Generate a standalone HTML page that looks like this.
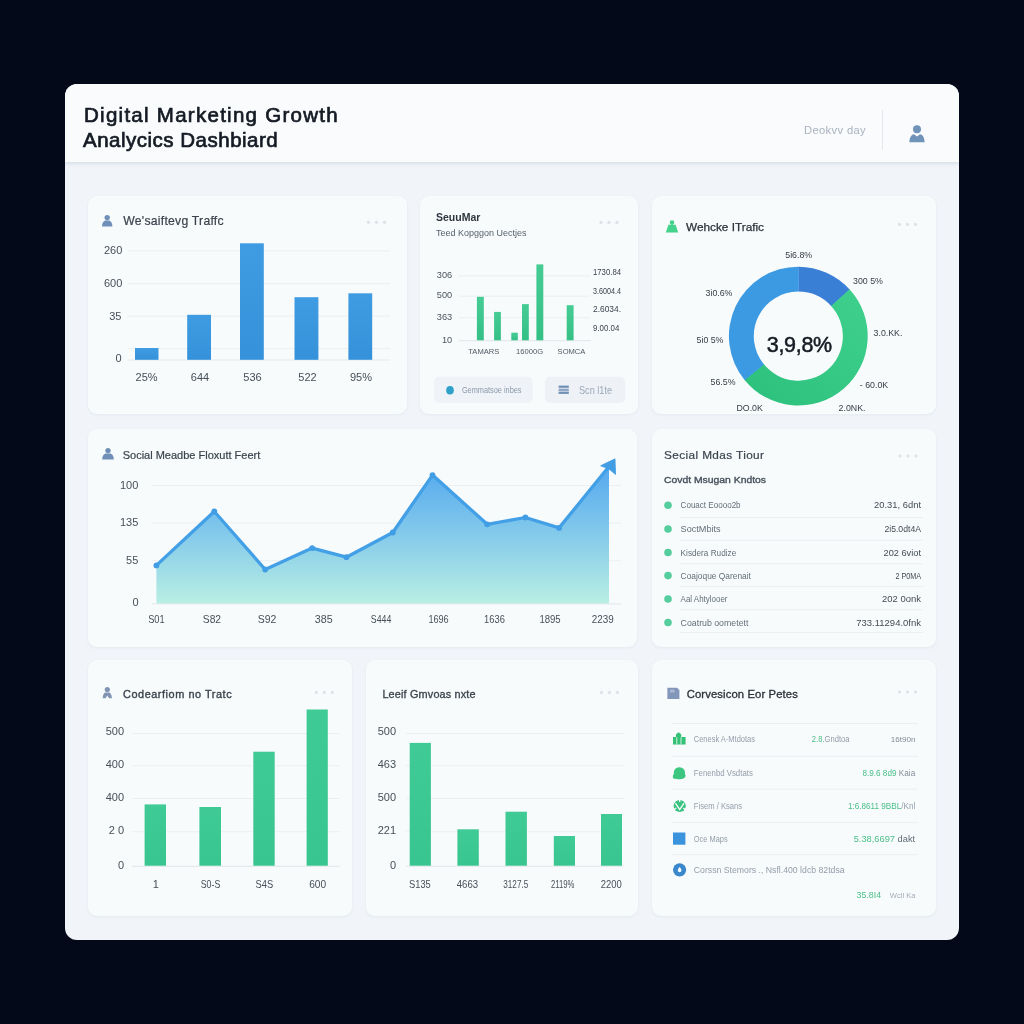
<!DOCTYPE html>
<html lang="en">
<head>
<meta charset="utf-8">
<title>Digital Marketing Growth Analytics Dashboard</title>
<style>
*{box-sizing:border-box;margin:0;padding:0}
html,body{width:1024px;height:1024px;overflow:hidden}
body{background:#040919;font-family:"Liberation Sans",sans-serif;position:relative;color:#2d333b}
.panel{position:absolute;left:65px;top:84px;width:894px;height:856px;background:#f1f5f9;border-radius:12px;overflow:hidden;filter:blur(.4px)}
.header{position:absolute;left:0;top:0;width:894px;height:78px;background:#f9fbfd;box-shadow:0 1px 4px rgba(120,135,155,.28)}
.header h1{position:absolute;left:19px;top:17.5px;font-size:20.5px;line-height:25px;font-weight:400;color:#151b24;-webkit-text-stroke:.7px #151b24;white-space:nowrap;letter-spacing:0}
.header .date{position:absolute;right:93px;top:38.500px;font-size:11.200px;letter-spacing:.35px;color:#a9b2bf;line-height:14px;white-space:nowrap}
.header .vr{position:absolute;left:817px;top:26px;width:1px;height:40px;background:#e3e8ee}
.header svg.user{position:absolute;left:843px;top:40px}
.card{position:absolute;background:#f8fbfc;border-radius:9px;box-shadow:0 1px 3px rgba(170,185,205,.18)}
.card svg{position:absolute;left:0;top:0;overflow:visible}
svg text{font-family:"Liberation Sans",sans-serif}
.t{fill:#3a434d;stroke:#3a434d;stroke-width:.2px}
.ax{fill:#464f59;font-size:11px}
.g{stroke:#ebeff3;stroke-width:1}
.dots circle{fill:#dfe4ea}
</style>
</head>
<body>
<svg width="0" height="0" style="position:absolute"><defs>
  <linearGradient id="gb" x1="0" y1="0" x2="0" y2="1"><stop offset="0" stop-color="#3f9ce2"/><stop offset="1" stop-color="#3592da"/></linearGradient>
  <linearGradient id="gg" x1="0" y1="0" x2="0" y2="1"><stop offset="0" stop-color="#45cc94"/><stop offset="1" stop-color="#35c086"/></linearGradient>
  <linearGradient id="ga" x1="0" y1="0" x2="0" y2="1"><stop offset="0" stop-color="#54a8ef"/><stop offset=".5" stop-color="#84caea"/><stop offset="1" stop-color="#b9efe3"/></linearGradient>
  <linearGradient id="gd" x1="1" y1="0" x2="0" y2="1"><stop offset="0" stop-color="#3fd08d"/><stop offset="1" stop-color="#2cc07d"/></linearGradient>
  <linearGradient id="gg2" x1="0" y1="0" x2="0" y2="1"><stop offset="0" stop-color="#40cb96"/><stop offset="1" stop-color="#38c58f"/></linearGradient>
</defs></svg>
<div class="panel">
  <div class="header">
    <h1><span style="letter-spacing:1.270px">Digital Marketing Growth</span><br><span style="letter-spacing:.5px;margin-left:-1px">Analycics Dashbiard</span></h1>
    <div class="date">Deokvv day</div>
    <div class="vr"></div>
    <svg class="user" width="18" height="19" viewBox="0 0 18 19"><circle cx="9" cy="5.2" r="4" fill="#7093b9"/><path d="M1.400 18.200c0-5 2.300-8 4.600-8L9 12.600l3-2.400c2.300 0 4.600 3 4.600 8z" fill="#7093b9"/></svg>
  </div>

  <!-- cards: coordinates are relative to .panel (panel origin = 65,84) -->
  <section class="card" id="c1" style="left:23px;top:112px;width:319px;height:218px">
    <svg width="319" height="218" viewBox="88 196 319 218">
      <g fill="#6f8fb8"><circle cx="107.2" cy="217.6" r="2.7"/><path d="M102 226.6c0-4 2-6.2 3.6-6.2h3.2c1.600 0 3.600 2.200 3.600 6.200z"/></g>
      <text class="t" x="123.300" y="225" font-size="12.200" letter-spacing=".25">We'saiftevg Traffc</text>
      <g class="dots"><circle cx="368.500" cy="222.300" r="1.700"/><circle cx="376.500" cy="222.300" r="1.700"/><circle cx="384.500" cy="222.300" r="1.700"/></g>
      <g class="g"><path d="M127.500 250.800H390M127.500 283.600H390M127.500 316.200H390M127.500 348.600H390"/><path d="M127.500 360H390" stroke="#e3e8ed"/></g>
      <g class="ax" text-anchor="end"><text x="122.300" y="254.300">260</text><text x="122.300" y="287">600</text><text x="121.500" y="320">35</text><text x="121.500" y="362">0</text></g>
      <g fill="url(#gb)"><rect x="135" y="348" width="23.500" height="11.800"/><rect x="187.200" y="314.800" width="23.800" height="45"/><rect x="240" y="243.300" width="23.800" height="116.500"/><rect x="294.500" y="297.200" width="23.900" height="62.600"/><rect x="348.400" y="293.300" width="23.800" height="66.500"/></g>
      <g class="ax" text-anchor="middle"><text x="146.600" y="380.800">25%</text><text x="200" y="380.800">644</text><text x="252.500" y="380.800">536</text><text x="307.500" y="380.800">522</text><text x="361" y="380.800">95%</text></g>
    </svg>
  </section>
  <section class="card" id="c2" style="left:355px;top:112px;width:218px;height:218px">
    <svg width="218" height="218" viewBox="420 196 218 218">
      <text x="436" y="220.800" font-size="10.500" font-weight="700" fill="#2e3640">SeuuMar</text>
      <text x="436" y="235.600" font-size="9.300" fill="#56616d" textLength="90.500" lengthAdjust="spacingAndGlyphs">Teed Kopggon Uectjes</text>
      <g class="dots"><circle cx="601" cy="222.500" r="1.700"/><circle cx="609" cy="222.500" r="1.700"/><circle cx="617" cy="222.500" r="1.700"/></g>
      <g class="g"><path d="M458.500 275.800H590M458.500 296.200H590M458.500 317.700H590"/><path d="M458.500 340.700H591" stroke="#dfe5ea"/></g>
      <g font-size="9.200" fill="#4a535d" text-anchor="end"><text x="452.200" y="277.600">306</text><text x="452.200" y="298.400">500</text><text x="452.200" y="320.300">363</text><text x="452.200" y="342.500">10</text></g>
      <g fill="url(#gg)"><rect x="476.900" y="296.800" width="6.900" height="43.500"/><rect x="494.100" y="311.900" width="6.800" height="28.400"/><rect x="511.300" y="332.700" width="6.500" height="7.600"/><rect x="522" y="304.100" width="6.800" height="36.200"/><rect x="536.400" y="264.400" width="6.900" height="75.900"/><rect x="566.700" y="305.200" width="6.900" height="35.100"/></g>
      <g font-size="9.600" fill="#3c444e" lengthAdjust="spacingAndGlyphs"><text x="593" y="274.700" textLength="28" lengthAdjust="spacingAndGlyphs">1730.84</text><text x="593" y="293.800" textLength="28" lengthAdjust="spacingAndGlyphs">3.6004.4</text><text x="593" y="312.200" textLength="28" lengthAdjust="spacingAndGlyphs">2.6034.</text><text x="593" y="330.900" textLength="26.300" lengthAdjust="spacingAndGlyphs">9.00.04</text></g>
      <g font-size="7.600" fill="#4f5862" text-anchor="middle"><text x="483.800" y="354.200">TAMARS</text><text x="529.600" y="354.200">16000G</text><text x="571.500" y="354.200">SOMCA</text></g>
      <rect x="434" y="376.800" width="98.800" height="26.200" rx="5" fill="#eff3f8"/>
      <rect x="545" y="376.800" width="80.200" height="26.200" rx="5" fill="#eef2f7"/>
      <ellipse cx="450" cy="390.300" rx="3.800" ry="4.300" fill="#2fa1c8"/>
      <text x="461.900" y="393.400" font-size="9" fill="#8c98a9" textLength="59.600" lengthAdjust="spacingAndGlyphs">Gemmatsoe inbes</text>
      <g fill="#6f8fb5"><rect x="558.600" y="385.600" width="10.200" height="2.200"/><rect x="558.600" y="388.700" width="10.200" height="2.200" fill="#8aa3c2"/><rect x="558.600" y="391.600" width="10.200" height="2.300"/></g>
      <text x="579" y="393.900" font-size="10.400" fill="#9ca7b6" textLength="33" lengthAdjust="spacingAndGlyphs">Scn l1te</text>
    </svg>
  </section>
  <section class="card" id="c3" style="left:587px;top:112px;width:284px;height:218px">
    <svg width="284" height="218" viewBox="652 196 284 218">
      <g fill="#45d28c"><circle cx="672" cy="222.600" r="2.300"/><path d="M665.800 232.600l2.600-7.800h7.200l2.600 7.800z"/></g>
      <text x="686" y="230.800" font-size="11.800" fill="#2a3038" stroke="#2a3038" stroke-width=".25">Wehcke ITrafic</text>
      <g class="dots"><circle cx="899.500" cy="224.400" r="1.700"/><circle cx="907.500" cy="224.400" r="1.700"/><circle cx="915.500" cy="224.400" r="1.700"/></g>
      <path d="M798.30 266.70A69.4 69.4 0 0 1 849.87 289.66L831.37 306.32A44.5 44.5 0 0 0 798.30 291.60Z" fill="#3a7fd6"/><path d="M849.47 289.21A69.4 69.4 0 1 1 744.37 379.77L763.72 364.10A44.5 44.5 0 1 0 831.11 306.04Z" fill="url(#gd)"/><path d="M744.75 380.24A69.4 69.4 0 0 1 798.66 266.70L798.53 291.60A44.5 44.5 0 0 0 763.96 364.41Z" fill="#3c9ae2"/>
      <text x="799.300" y="351.600" font-size="21.500" fill="#161b23" text-anchor="middle" letter-spacing="-.3" stroke="#161b23" stroke-width=".5">3,9,8%</text>
      <g font-size="8.800" fill="#363d46" text-anchor="middle">
        <text x="798.700" y="258.200">5i6.8%</text><text x="868" y="283.600">300 5%</text><text x="888" y="335.600">3.0.KK.</text>
        <text x="874" y="387.600">- 60.0K</text><text x="852" y="410.800">2.0NK.</text><text x="749.700" y="410.800">DO.0K</text>
        <text x="723" y="385.400">56.5%</text><text x="710" y="342.700">5i0 5%</text><text x="719" y="295.800">3i0.6%</text>
      </g>
    </svg>
  </section>
  <section class="card" id="c4" style="left:23px;top:345px;width:549px;height:218px">
    <svg width="549" height="218" viewBox="88 429 549 218">
      <g fill="#6f8fb8"><circle cx="108" cy="450.600" r="2.700"/><path d="M102.200 459.500c0-3.800 2-6 3.800-6h4c1.800 0 3.800 2.200 3.800 6z"/></g>
      <text class="t" x="122.700" y="459" font-size="11">Social Meadbe Floxutt Feert</text>
      <g class="g"><path d="M151.500 485.500H621M151.500 523H621M151.500 560.700H621"/><path d="M151.500 603.900H621" stroke="#e1e7ec"/></g>
      <g class="ax" text-anchor="end"><text x="138.300" y="488.700">100</text><text x="138.300" y="526.400">135</text><text x="138.300" y="563.900">55</text><text x="138.500" y="605.700">0</text></g>
      <path d="M156.4 565.4L214.3 511.5L265.2 569.5L312.2 548.1L346.4 557.2L392.8 532.5L432.5 475.1L487.2 524.3L525.4 517.5L559.1 527.9L609 466.5L609 603.600L156.400 603.600Z" fill="url(#ga)"/>
      <path d="M156.4 565.4L214.3 511.5L265.2 569.5L312.2 548.1L346.4 557.2L392.8 532.5L432.5 475.1L487.2 524.3L525.4 517.5L559.1 527.9L609 466.5" fill="none" stroke="#43a0e6" stroke-width="3.300" stroke-linejoin="round" stroke-linecap="round"/>
      <g fill="#419de4"><circle cx="156.4" cy="565.4" r="2.900"/><circle cx="214.3" cy="511.5" r="2.900"/><circle cx="265.2" cy="569.5" r="2.900"/><circle cx="312.2" cy="548.1" r="2.900"/><circle cx="346.4" cy="557.2" r="2.900"/><circle cx="392.8" cy="532.5" r="2.900"/><circle cx="432.5" cy="475.1" r="2.900"/><circle cx="487.2" cy="524.3" r="2.900"/><circle cx="525.4" cy="517.5" r="2.900"/><circle cx="559.1" cy="527.9" r="2.900"/><path d="M615 458.800L600.600 465.800L608.600 468.700L615.600 474.500z" stroke="#419de4" stroke-width=".8" stroke-linejoin="round"/></g>
      <g class="ax" font-size="10.600"><text x="148.2" y="622.500" textLength="16.4" lengthAdjust="spacingAndGlyphs">S01</text><text x="202.8" y="622.500" textLength="18.3" lengthAdjust="spacingAndGlyphs">S82</text><text x="257.8" y="622.500" textLength="18.6" lengthAdjust="spacingAndGlyphs">S92</text><text x="314.8" y="622.500" textLength="17.8" lengthAdjust="spacingAndGlyphs">385</text><text x="370.8" y="622.500" textLength="20.5" lengthAdjust="spacingAndGlyphs">S444</text><text x="428.4" y="622.500" textLength="20.3" lengthAdjust="spacingAndGlyphs">1696</text><text x="484.1" y="622.500" textLength="20.8" lengthAdjust="spacingAndGlyphs">1636</text><text x="539.4" y="622.500" textLength="21.3" lengthAdjust="spacingAndGlyphs">1895</text><text x="591.8" y="622.500" textLength="22" lengthAdjust="spacingAndGlyphs">2239</text></g>
    </svg>
  </section>
  <section class="card" id="c5" style="left:587px;top:345px;width:284px;height:218px">
    <svg width="284" height="218" viewBox="652 429 284 218">
      <text class="t" x="664" y="459.300" font-size="11.800" textLength="100" stroke="#3a434d" stroke-width=".2">Secial Mdas Tiour</text>
      <g class="dots"><circle cx="900" cy="456" r="1.700"/><circle cx="908" cy="456" r="1.700"/><circle cx="916" cy="456" r="1.700"/></g>
      <text x="664" y="482.700" font-size="9.600" fill="#47505b" stroke="#47505b" stroke-width=".35" textLength="102" lengthAdjust="spacingAndGlyphs">Covdt Msugan Kndtos</text>
      <path class="g" d="M680 517.5H923M680 540.3H923M680 563.75H923M680 586.6H923M680 609.7H923M680 632.5H923" stroke="#e8ecf1"/>
      <g font-size="8.800"><circle cx="668" cy="505.3" r="3.800" fill="#55cd9d"/><text x="680.600" y="508.4" fill="#636d79" textLength="60" lengthAdjust="spacingAndGlyphs">Couact Eoooo2b</text><text x="874.1" y="508.4" fill="#434b55" textLength="46.9" lengthAdjust="spacingAndGlyphs">20.31, 6dnt</text><circle cx="668" cy="529" r="3.800" fill="#55cd9d"/><text x="680.600" y="532.1" fill="#636d79" textLength="40" lengthAdjust="spacingAndGlyphs">SoctMbits</text><text x="884.4" y="532.1" fill="#434b55" textLength="36.6" lengthAdjust="spacingAndGlyphs">2i5.0dt4A</text><circle cx="668" cy="552.5" r="3.800" fill="#55cd9d"/><text x="680.600" y="555.6" fill="#636d79" textLength="55.6" lengthAdjust="spacingAndGlyphs">Kisdera Rudize</text><text x="883.5" y="555.6" fill="#434b55" textLength="37.5" lengthAdjust="spacingAndGlyphs">202 6viot</text><circle cx="668" cy="575.6" r="3.800" fill="#55cd9d"/><text x="680.600" y="578.7" fill="#636d79" textLength="70.3" lengthAdjust="spacingAndGlyphs">Coajoque Qarenait</text><text x="895.4" y="578.7" fill="#434b55" textLength="25.6" lengthAdjust="spacingAndGlyphs">2 P0MA</text><circle cx="668" cy="599" r="3.800" fill="#55cd9d"/><text x="680.600" y="602.1" fill="#636d79" textLength="46.9" lengthAdjust="spacingAndGlyphs">Aal Ahtylooer</text><text x="882.0" y="602.1" fill="#434b55" textLength="39" lengthAdjust="spacingAndGlyphs">202 0onk</text><circle cx="668" cy="622.5" r="3.800" fill="#55cd9d"/><text x="680.600" y="625.6" fill="#636d79" textLength="67.8" lengthAdjust="spacingAndGlyphs">Coatrub oometett</text><text x="856.3" y="625.6" fill="#434b55" textLength="64.7" lengthAdjust="spacingAndGlyphs">733.11294.0fnk</text></g>
    </svg>
  </section>
  <section class="card" id="c6" style="left:23px;top:576px;width:264px;height:256px">
    <svg width="264" height="256" viewBox="88 660 264 256">
      <g fill="#8094b3"><circle cx="107.300" cy="689.500" r="2.600"/><path d="M102.700 698.300c0-3.800 1.600-5.800 3-5.800h3.200c1.400 0 3 2 3 5.800h-2.900l-1.700-2.700-1.700 2.700z"/></g>
      <text class="t" x="123" y="697.700" font-size="10.900" textLength="108.600" style="stroke-width:.35px">Codearfiom no Tratc</text>
      <g class="dots"><circle cx="316.300" cy="692.500" r="1.700"/><circle cx="324.300" cy="692.500" r="1.700"/><circle cx="332.300" cy="692.500" r="1.700"/></g>
      <g class="g"><path d="M132 733.500H339.500M132 765.700H339.500M132 798.500H339.500M132 831.700H339.500"/><path d="M132 866.300H339.500" stroke="#e1e7ec"/></g>
      <g class="ax" font-size="11.200" text-anchor="end"><text x="124" y="735.200">500</text><text x="124" y="768.300">400</text><text x="124" y="800.500">400</text><text x="124" y="834.200">2 0</text><text x="124" y="869.400">0</text></g>
      <g fill="url(#gg2)"><rect x="144.600" y="804.400" width="21.400" height="61.300"/><rect x="199.400" y="807" width="21.600" height="58.700"/><rect x="253.300" y="751.700" width="21.400" height="114"/><rect x="306.600" y="709.500" width="21.200" height="156.200"/></g>
      <g class="ax" font-size="10.800"><text x="155.7" y="888.300" text-anchor="middle">1</text><text x="200.7" y="888.300" textLength="19.6" lengthAdjust="spacingAndGlyphs">S0-S</text><text x="255.6" y="888.300" textLength="17.6" lengthAdjust="spacingAndGlyphs">S4S</text><text x="309.2" y="888.300" textLength="16.9" lengthAdjust="spacingAndGlyphs">600</text></g>
    </svg>
  </section>
  <section class="card" id="c7" style="left:301px;top:576px;width:272px;height:256px">
    <svg width="272" height="256" viewBox="366 660 272 256">
      <text class="t" x="382.400" y="697.700" font-size="10.900" textLength="93.200" style="stroke-width:.3px">Leeif Gmvoas nxte</text>
      <g class="dots"><circle cx="601.500" cy="692.500" r="1.700"/><circle cx="609.500" cy="692.500" r="1.700"/><circle cx="617.500" cy="692.500" r="1.700"/></g>
      <g class="g"><path d="M406 733.500H623.600M406 765.700H623.600M406 798.500H623.600M406 831.700H623.600"/><path d="M406 866.300H623.600" stroke="#e1e7ec"/></g>
      <g class="ax" font-size="11.200" text-anchor="end"><text x="396" y="735.200">500</text><text x="396" y="768.300">463</text><text x="396" y="800.500">500</text><text x="396" y="834.200">221</text><text x="396" y="869.400">0</text></g>
      <g fill="url(#gg2)"><rect x="409.700" y="742.900" width="21.200" height="122.800"/><rect x="457.400" y="829.300" width="21.400" height="36.400"/><rect x="505.500" y="811.700" width="21.400" height="54"/><rect x="553.800" y="836" width="21.200" height="29.700"/><rect x="601" y="814" width="21" height="51.700"/></g>
      <g class="ax" font-size="10.600"><text x="409.1" y="888.300" textLength="21.7" lengthAdjust="spacingAndGlyphs">S135</text><text x="456.7" y="888.300" textLength="21.4" lengthAdjust="spacingAndGlyphs">4663</text><text x="503.3" y="888.300" textLength="24.9" lengthAdjust="spacingAndGlyphs">3127.5</text><text x="550.9" y="888.300" textLength="23.4" lengthAdjust="spacingAndGlyphs">2119%</text><text x="600.7" y="888.300" textLength="21.1" lengthAdjust="spacingAndGlyphs">2200</text></g>
    </svg>
  </section>
  <section class="card" id="c8" style="left:587px;top:576px;width:284px;height:256px">
    <svg width="284" height="256" viewBox="652 660 284 256">
      <path d="M667.400 687.700h9.600l2.400 2.400v8.900h-12z" fill="#8196b8"/><rect x="670" y="689.600" width="4.600" height="3" fill="#a9b8d0"/>
      <text x="686.700" y="697.600" font-size="11.300" fill="#2a3038" stroke="#2a3038" stroke-width=".3" textLength="111.200" lengthAdjust="spacing">Corvesicon Eor Petes</text>
      <g class="dots"><circle cx="899.500" cy="691.900" r="1.700"/><circle cx="907.500" cy="691.900" r="1.700"/><circle cx="915.500" cy="691.900" r="1.700"/></g>
      <path class="g" d="M672 723.500H917.500M672 756.300H917.500M672 789.200H917.500M672 822.400H917.500M672 854.600H917.500" stroke="#e7ebf0"/>
      <!-- row icons -->
      <g fill="#35c277"><path d="M673 744.500v-7.600h3v-2.600l2.600-2 2.600 2v2.600h4.400v7.600z"/><path d="M676.800 737.300v7" stroke="#f8fbfc" stroke-width=".8"/><path d="M681 737.300v7" stroke="#f8fbfc" stroke-width=".8"/></g>
      <path d="M673.500 778.500c-1-1-1-3.400.4-4.400-.6-3.800 1.800-6.800 5.400-6.800 3.800 0 6.400 3 5.600 6.400 1 1.200.8 3.200-.4 4.200-2.400 1.400-8.600 1.600-11 .6z" fill="#3cc67f"/>
      <circle cx="679.700" cy="806" r="6.100" fill="#3bc382"/><path d="M675.400 803.200l4.300 6.400 4.300-6.400M679.700 799.500v2.600M674 809.600l2.200-1.600M685.400 809.600l-2.200-1.600" fill="none" stroke="#f8fbfc" stroke-width="1.300"/>
      <rect x="673" y="832.500" width="12.400" height="12.200" fill="#3b93de"/>
      <circle cx="679.600" cy="869.800" r="6.600" fill="#3a87cc"/><path d="M679.600 867c1.300 1.600 1.800 2.400 1.800 3.400a1.800 1.800 0 0 1-3.600 0c0-1 .5-1.800 1.800-3.400z" fill="#f8fbfc"/>
      <g font-size="8.600" fill="#949daa">
        <text x="693.800" y="741.600" textLength="61.200" lengthAdjust="spacingAndGlyphs">Cenesk A-Mtdotas</text><text x="693.800" y="775.500" textLength="59" lengthAdjust="spacingAndGlyphs">Fenenbd Vsdtats</text><text x="693.800" y="808.700" textLength="48.300" lengthAdjust="spacingAndGlyphs">Fisem / Ksans</text><text x="693.800" y="841.500" textLength="33.800" lengthAdjust="spacingAndGlyphs">Oce Maps</text><text x="693.800" y="873.100" textLength="150.800" lengthAdjust="spacingAndGlyphs">Corssn Stemors ., Nsfl.400 ldcb 82tdsa</text>
      </g>
      <g font-size="8.800">
        <text x="811.800" y="741.800" textLength="37.700" lengthAdjust="spacingAndGlyphs"><tspan fill="#49bf87">2.8.</tspan><tspan fill="#949daa">Gndtoa</tspan></text>
        <text x="890.700" y="741.800" fill="#828c98" font-size="8" textLength="24.800" lengthAdjust="spacingAndGlyphs">16t90n</text>
        <text x="862.400" y="775.700" textLength="52.800" lengthAdjust="spacingAndGlyphs"><tspan fill="#49bf87">8.9.6 8d9</tspan><tspan fill="#848e9a"> Kaia</tspan></text>
        <text x="847.900" y="808.900" textLength="67.500" lengthAdjust="spacingAndGlyphs"><tspan fill="#49bf87">1:6.8611 9BBL</tspan><tspan fill="#949daa">/Knl</tspan></text>
        <text x="853.700" y="841.700" textLength="61.500" lengthAdjust="spacingAndGlyphs"><tspan fill="#49bf87">5.38,6697</tspan><tspan fill="#626c77"> dakt</tspan></text>
        <text x="856.600" y="898.300" font-size="9.400" fill="#49bf87" textLength="24.500" lengthAdjust="spacingAndGlyphs">35.8I4</text>
        <text x="889.800" y="898" font-size="7.400" fill="#a3acb7" textLength="25.700" lengthAdjust="spacingAndGlyphs">Wcll Ka</text>
      </g>
    </svg>
  </section>
</div>
</body>
</html>
